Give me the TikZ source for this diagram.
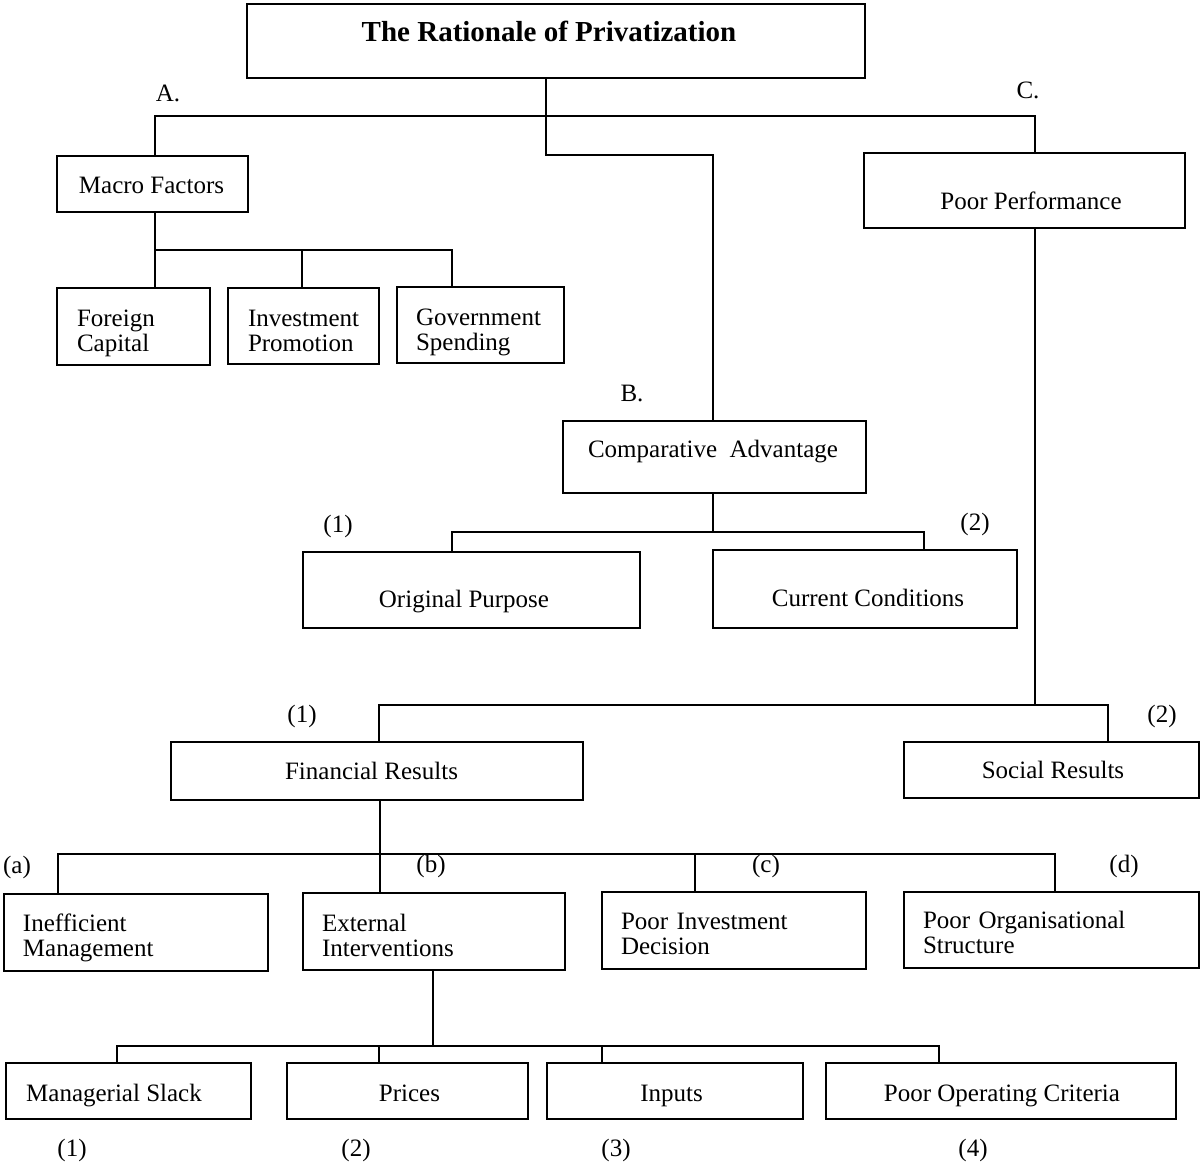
\documentclass[tikz,border=0pt]{standalone}
\usepackage{fontspec}
\setmainfont{Liberation Serif}
\newcommand\mybox[7][]{\node[box,minimum width={(#5-#3)*1pt},minimum height={(#6-#4)*1pt},#1] (#2) at ({(#3+#5)/2},{(#4+#6)/2}) {#7};}
\newcommand\tx[3]{\raisebox{-#2pt}[\height][\depth]{\kern#1pt #3}}
\newcommand\tl[3]{\raisebox{-#1pt}[\height][\depth]{\begin{tabular}{@{}l@{}}#2\\#3\end{tabular}}}
\begin{document}
\begin{tikzpicture}[x=1pt,y=-1pt,
  box/.style={draw,line width=2.5pt,inner sep=1pt,text height=17pt,text depth=6pt},
  lbox/.style={box,align=left,text width=#1,text height=,text depth=},
  conn/.style={line width=2.1pt},
  lab/.style={inner sep=0pt},
  th/.style 2 args={text height=#1pt,text depth=#2pt},
  every node/.style={font=\fontsize{25}{25.5}\selectfont},
  titlefont/.style={font=\bfseries\fontsize{29}{30}\selectfont}]
\useasboundingbox (0,0) rectangle (1202,1167);

% boxes
\mybox[titlefont,th={20}{20}]{title}{247}{4}{865}{78}{\tx{-14}{1}{The Rationale of Privatization}}
\mybox{macro}{57}{156}{248}{212}{\tx{-2}{4}{Macro Factors}}
\mybox[lbox=113pt]{fc}{57}{288}{210}{365}{\tl{7.5}{Foreign}{Capital}}
\mybox[lbox=111pt]{ip}{228}{288}{379}{364}{\tl{8}{Investment}{Promotion}}
\mybox[lbox=129pt]{gs}{397}{287}{564}{363}{\tl{8}{Government}{Spending}}
\mybox[th={41}{6}]{pp}{864}{153}{1185}{228}{\tx{13}{1}{Poor Performance}}
\mybox[th={17}{19}]{ca}{563}{421}{866}{493}{\tx{-3}{1}{Comparative\ \ Advantage}}
\mybox[th={38}{6}]{op}{303}{552}{640}{628}{\tx{-15}{1}{Original Purpose}}
\mybox[th={38}{6}]{cc}{713}{550}{1017}{628}{\tx{6}{1}{Current Conditions}}
\mybox{fr}{171}{742}{583}{800}{\tx{-11}{3}{Financial Results}}
\mybox{sr}{904}{742}{1199}{798}{\tx{3}{3}{Social Results}}
\mybox[lbox=226pt]{im}{4}{894}{268}{971}{\tl{6.5}{Inefficient}{Management}}
\mybox[lbox=224pt]{ei}{303}{893}{565}{970}{\tl{7.5}{External}{Interventions}}
\mybox[lbox=226pt]{pid}{602}{892}{866}{969}{\tl{6.5}{Poor Investment}{Decision}}
\mybox[lbox=257pt]{pos}{904}{892}{1199}{968}{\tl{6}{Poor Organisational}{Structure}}
\mybox{ms}{6}{1063}{251}{1119}{\tx{-29}{5}{Managerial Slack}}
\mybox{pr}{287}{1063}{528}{1119}{\tx{4}{5}{Prices}}
\mybox{in}{547}{1063}{803}{1119}{\tx{-7}{5}{Inputs}}
\mybox{poc}{826}{1063}{1176}{1119}{\tx{2}{5}{Poor Operating Criteria}}

% labels
\node[lab] (lA) at (168,93) {A.};
\node[lab] (lC) at (1028,90) {C.};
\node[lab] (lB) at (632,393) {B.};
\node[lab] (lB1) at (338,526) {(1)};
\node[lab] (lB2) at (975,524) {(2)};
\node[lab] (lC1) at (302,716) {(1)};
\node[lab] (lC2) at (1162,716) {(2)};
\node[lab] (la) at (17,867) {(a)};
\node[lab] (lb) at (431,866) {(b)};
\node[lab] (lc) at (766,866) {(c)};
\node[lab] (ld) at (1124,866) {(d)};
\node[lab] (n1) at (72,1150) {(1)};
\node[lab] (n2) at (356,1150) {(2)};
\node[lab] (n3) at (616,1150) {(3)};
\node[lab] (n4) at (973,1150) {(4)};

% junctions
\coordinate (jT) at (546,116);
\coordinate (jTB) at (546,155);
\coordinate (jTc) at (713,155);
\coordinate (jA) at (155,116);
\coordinate (jC) at (1035,116);
\coordinate (jM) at (155,250);
\coordinate (jMi) at (302,250);
\coordinate (jMg) at (452,250);
\coordinate (jP) at (1035,705);
\coordinate (jFR) at (379,705);
\coordinate (jSR) at (1108,705);
\coordinate (jB) at (713,532);
\coordinate (jB1) at (452,532);
\coordinate (jB2) at (924,532);
\coordinate (jF) at (380,854);
\coordinate (jFa) at (58,854);
\coordinate (jFc) at (695,854);
\coordinate (jFd) at (1055,854);
\coordinate (jE) at (433,1046);
\coordinate (jE1) at (117,1046);
\coordinate (jE2) at (379,1046);
\coordinate (jE3) at (602,1046);
\coordinate (jE4) at (939,1046);

% connectors
\draw[conn] (title.south -| jT) -- (jTB) -- (jTc) -- (ca.north -| jTc);
\draw[conn] (macro.north -| jA) |- (jC) -- (pp.north -| jC);
\draw[conn] (macro.south -| jM) -- (fc.north -| jM);
\draw[conn] (jM) -- (jMg) -- (gs.north -| jMg);
\draw[conn] (jMi) -- (ip.north -| jMi);
\draw[conn] (pp.south -| jP) -- (jP);
\draw[conn] (fr.north -| jFR) -- (jFR) -- (jSR) -- (sr.north -| jSR);
\draw[conn] (ca.south -| jB) -- (jB);
\draw[conn] (op.north -| jB1) -- (jB1) -- (jB2) -- (cc.north -| jB2);
\draw[conn] (fr.south -| jF) -- (ei.north -| jF);
\draw[conn] (im.north -| jFa) -- (jFa) -- (jFd) -- (pos.north -| jFd);
\draw[conn] (jFc) -- (pid.north -| jFc);
\draw[conn] (ei.south -| jE) -- (jE);
\draw[conn] (ms.north -| jE1) -- (jE1) -- (jE4) -- (poc.north -| jE4);
\draw[conn] (jE2) -- (pr.north -| jE2);
\draw[conn] (jE3) -- (in.north -| jE3);
\end{tikzpicture}
\end{document}
